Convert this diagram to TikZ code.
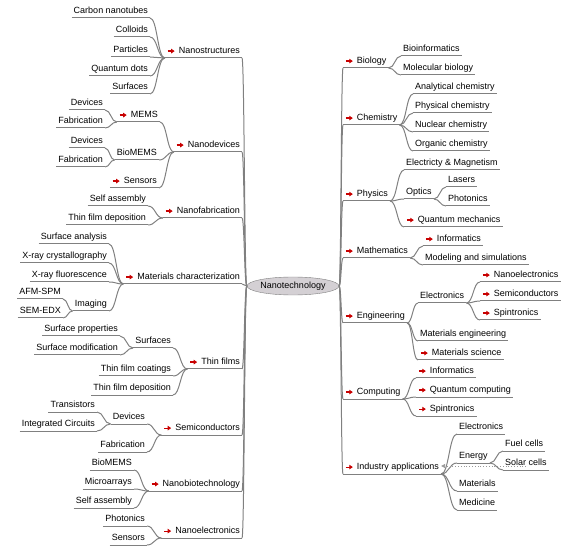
\documentclass[tikz,border=0pt]{standalone}
\usepackage{fontspec}
\setmainfont{Liberation Sans}
\usepackage{tikz}
\usetikzlibrary{arrows.meta, shapes.geometric, calc}
\definecolor{linegray}{RGB}{128,128,128}
\definecolor{markred}{RGB}{200,0,0}
\definecolor{hubfill}{RGB}{212,208,212}
\newcommand{\redarrow}{\tikz[baseline=-2.5pt]\draw[markred, line width=1.2pt, -{Triangle[length=3.5pt,width=4.5pt]}] (0pt,0pt) -- (7pt,0pt);\hspace{3.5pt}}
\tikzset{
  wire/.style={draw=linegray, line width=1pt},
  topic/.style={font=\fontsize{9}{10}\selectfont, inner xsep=2pt, inner ysep=2pt, text height=7pt, text depth=2.2pt,
    append after command={(\tikzlastnode.south west) edge[wire] (\tikzlastnode.south east)}},
  ltopic/.style={topic, anchor=south east},
  rtopic/.style={topic, anchor=south west},
  link/.style={wire, to path={let \p1=(\tikztostart), \p2=(\tikztotarget) in
    .. controls ({0.5*\x1+0.5*\x2},\y1) and ({0.5*\x1+0.5*\x2},\y2) .. (\tikztotarget)}},
  relation/.style={draw=linegray!80, dotted, line width=0.8pt, -{Triangle[length=4pt,width=4pt]}}
}

\begin{document}
\begin{tikzpicture}[x=1pt, y=-1pt]
    \useasboundingbox (0,0) rectangle (574,559);
    % Nodes
    \node (nano) at (293,286) [ellipse, draw=linegray, fill=hubfill, minimum width=75pt, minimum height=18pt, inner sep=0pt, font=\fontsize{9}{10}\selectfont] {Nanotechnology};

    % left side
    \node (nstruct) at (242,58) [ltopic] {\redarrow Nanostructures};
    \node (ndev) at (242,152) [ltopic] {\redarrow Nanodevices};
    \node (nfab) at (242,218) [ltopic] {\redarrow Nanofabrication};
    \node (mchar) at (242,284) [ltopic] {\redarrow Materials characterization};
    \node (tfilm) at (242,369) [ltopic] {\redarrow Thin films};
    \node (semi) at (242,435) [ltopic] {\redarrow Semiconductors};
    \node (nbio) at (242,491) [ltopic] {\redarrow Nanobiotechnology};
    \node (nelec) at (242,538) [ltopic] {\redarrow Nanoelectronics};

    \node (cnt) at (150,18) [ltopic] {Carbon nanotubes};
    \node (coll) at (150,37) [ltopic] {Colloids};
    \node (part) at (150,57) [ltopic] {Particles};
    \node (qdots) at (150,76) [ltopic] {Quantum dots};
    \node (surfs) at (150,94) [ltopic] {Surfaces};

    \node (mems) at (160,122) [ltopic] {\redarrow MEMS};
    \node (biomems) at (159,160) [ltopic] {BioMEMS};
    \node (sensl) at (159,188) [ltopic] {\redarrow Sensors};
    \node (memsdev) at (105,110) [ltopic] {Devices};
    \node (memsfab) at (105,128) [ltopic] {Fabrication};
    \node (biodev) at (105,148) [ltopic] {Devices};
    \node (biofab) at (105,167) [ltopic] {Fabrication};

    \node (selfa) at (148,206) [ltopic] {Self assembly};
    \node (tfdep) at (148,225) [ltopic] {Thin film deposition};

    \node (sana) at (109,244) [ltopic] {Surface analysis};
    \node (xrc) at (109,263) [ltopic] {X-ray crystallography};
    \node (xrf) at (109,282) [ltopic] {X-ray fluorescence};
    \node (imag) at (109,311) [ltopic] {Imaging};
    \node (afm) at (63,299) [ltopic] {AFM-SPM};
    \node (sem) at (63,318) [ltopic] {SEM-EDX};

    \node (tsurf) at (173,348) [ltopic] {Surfaces};
    \node (tfcoat) at (173,376) [ltopic] {Thin film coatings};
    \node (tfdep2) at (173,395) [ltopic] {Thin film deposition};
    \node (sprop) at (120,336) [ltopic] {Surface properties};
    \node (smod) at (120,355) [ltopic] {Surface modification};

    \node (sdev) at (147,424) [ltopic] {Devices};
    \node (sfab) at (147,452) [ltopic] {Fabrication};
    \node (trans) at (97,412) [ltopic] {Transistors};
    \node (icirc) at (97,431) [ltopic] {Integrated Circuits};

    \node (bmems) at (134,470) [ltopic] {BioMEMS};
    \node (marr) at (134,489) [ltopic] {Microarrays};
    \node (sass) at (134,508) [ltopic] {Self assembly};

    \node (phot) at (147,526) [ltopic] {Photonics};
    \node (sensr) at (147,545) [ltopic] {Sensors};

    % right side
    \node (bio) at (343,68) [rtopic] {\redarrow Biology};
    \node (chem) at (343,125) [rtopic] {\redarrow Chemistry};
    \node (phys) at (343,201) [rtopic] {\redarrow Physics};
    \node (math) at (343,258) [rtopic] {\redarrow Mathematics};
    \node (eng) at (343,323) [rtopic] {\redarrow Engineering};
    \node (comp) at (343,399) [rtopic] {\redarrow Computing};
    \node (ind) at (343,474) [rtopic] {\redarrow Industry applications};

    \node (binf) at (401,56) [rtopic] {Bioinformatics};
    \node (molb) at (401,75) [rtopic] {Molecular biology};

    \node (anal) at (413,94) [rtopic] {Analytical chemistry};
    \node (physc) at (413,113) [rtopic] {Physical chemistry};
    \node (nucl) at (413,132) [rtopic] {Nuclear chemistry};
    \node (orgc) at (413,151) [rtopic] {Organic chemistry};

    \node (em) at (404,170) [rtopic] {Electricty \& Magnetism};
    \node (optic) at (404,199) [rtopic] {Optics};
    \node (qmech) at (404,227) [rtopic] {\redarrow Quantum mechanics};
    \node (laser) at (446,187) [rtopic] {Lasers};
    \node (photr) at (446,206) [rtopic] {Photonics};

    \node (inform) at (423,246) [rtopic] {\redarrow Informatics};
    \node (model) at (423,265) [rtopic] {Modeling and simulations};

    \node (elect) at (418,303) [rtopic] {Electronics};
    \node (meng) at (418,341) [rtopic] {Materials engineering};
    \node (msci) at (418,360) [rtopic] {\redarrow Materials science};
    \node (nanoel) at (480,282) [rtopic] {\redarrow Nanoelectronics};
    \node (semir) at (480,301) [rtopic] {\redarrow Semiconductors};
    \node (spin) at (480,320) [rtopic] {\redarrow Spintronics};

    \node (inform2) at (416,378) [rtopic] {\redarrow Informatics};
    \node (qcomp) at (416,397) [rtopic] {\redarrow Quantum computing};
    \node (spin2) at (416,416) [rtopic] {\redarrow Spintronics};

    \node (ielec) at (457,434) [rtopic] {Electronics};
    \node (energy) at (457,463) [rtopic] {Energy};
    \node (mater) at (457,491) [rtopic] {Materials};
    \node (medic) at (457,510) [rtopic] {Medicine};
    \node (fuel) at (503,451) [rtopic] {Fuel cells};
    \node (solar) at (503,470) [rtopic] {Solar cells};

    % Edges
    \draw[link] (nstruct.south east) to (nano.west);
    \draw[link] (ndev.south east) to (nano.west);
    \draw[link] (nfab.south east) to (nano.west);
    \draw[link] (mchar.south east) to (nano.west);
    \draw[link] (tfilm.south east) to (nano.west);
    \draw[link] (semi.south east) to (nano.west);
    \draw[link] (nbio.south east) to (nano.west);
    \draw[link] (nelec.south east) to (nano.west);

    \draw[link] (cnt.south east) to (nstruct.south west);
    \draw[link] (coll.south east) to (nstruct.south west);
    \draw[link] (part.south east) to (nstruct.south west);
    \draw[link] (qdots.south east) to (nstruct.south west);
    \draw[link] (surfs.south east) to (nstruct.south west);

    \draw[link] (mems.south east) to (ndev.south west);
    \draw[link] (biomems.south east) to (ndev.south west);
    \draw[link] (sensl.south east) to (ndev.south west);
    \draw[link] (memsdev.south east) to (mems.south west);
    \draw[link] (memsfab.south east) to (mems.south west);
    \draw[link] (biodev.south east) to (biomems.south west);
    \draw[link] (biofab.south east) to (biomems.south west);

    \draw[link] (selfa.south east) to (nfab.south west);
    \draw[link] (tfdep.south east) to (nfab.south west);

    \draw[link] (sana.south east) to (mchar.south west);
    \draw[link] (xrc.south east) to (mchar.south west);
    \draw[link] (xrf.south east) to (mchar.south west);
    \draw[link] (imag.south east) to (mchar.south west);
    \draw[link] (afm.south east) to (imag.south west);
    \draw[link] (sem.south east) to (imag.south west);

    \draw[link] (tsurf.south east) to (tfilm.south west);
    \draw[link] (tfcoat.south east) to (tfilm.south west);
    \draw[link] (tfdep2.south east) to (tfilm.south west);
    \draw[link] (sprop.south east) to (tsurf.south west);
    \draw[link] (smod.south east) to (tsurf.south west);

    \draw[link] (sdev.south east) to (semi.south west);
    \draw[link] (sfab.south east) to (semi.south west);
    \draw[link] (trans.south east) to (sdev.south west);
    \draw[link] (icirc.south east) to (sdev.south west);

    \draw[link] (bmems.south east) to (nbio.south west);
    \draw[link] (marr.south east) to (nbio.south west);
    \draw[link] (sass.south east) to (nbio.south west);

    \draw[link] (phot.south east) to (nelec.south west);
    \draw[link] (sensr.south east) to (nelec.south west);

    \draw[link] (nano.east) to (bio.south west);
    \draw[link] (nano.east) to (chem.south west);
    \draw[link] (nano.east) to (phys.south west);
    \draw[link] (nano.east) to (math.south west);
    \draw[link] (nano.east) to (eng.south west);
    \draw[link] (nano.east) to (comp.south west);
    \draw[link] (nano.east) to (ind.south west);

    \draw[link] (bio.south east) to (binf.south west);
    \draw[link] (bio.south east) to (molb.south west);

    \draw[link] (chem.south east) to (anal.south west);
    \draw[link] (chem.south east) to (physc.south west);
    \draw[link] (chem.south east) to (nucl.south west);
    \draw[link] (chem.south east) to (orgc.south west);

    \draw[link] (phys.south east) to (em.south west);
    \draw[link] (phys.south east) to (optic.south west);
    \draw[link] (phys.south east) to (qmech.south west);
    \draw[link] (optic.south east) to (laser.south west);
    \draw[link] (optic.south east) to (photr.south west);

    \draw[link] (math.south east) to (inform.south west);
    \draw[link] (math.south east) to (model.south west);

    \draw[link] (eng.south east) to (elect.south west);
    \draw[link] (eng.south east) to (meng.south west);
    \draw[link] (eng.south east) to (msci.south west);
    \draw[link] (elect.south east) to (nanoel.south west);
    \draw[link] (elect.south east) to (semir.south west);
    \draw[link] (elect.south east) to (spin.south west);

    \draw[link] (comp.south east) to (inform2.south west);
    \draw[link] (comp.south east) to (qcomp.south west);
    \draw[link] (comp.south east) to (spin2.south west);

    \draw[link] (ind.south east) to (ielec.south west);
    \draw[link] (ind.south east) to (energy.south west);
    \draw[link] (ind.south east) to (mater.south west);
    \draw[link] (ind.south east) to (medic.south west);
    \draw[link] (energy.south east) to (fuel.south west);
    \draw[link] (energy.south east) to (solar.south west);

    \draw[relation] ([yshift=4pt]solar.south) -- ([yshift=4pt]solar.south -| ind.south east);
\end{tikzpicture}
\end{document}
